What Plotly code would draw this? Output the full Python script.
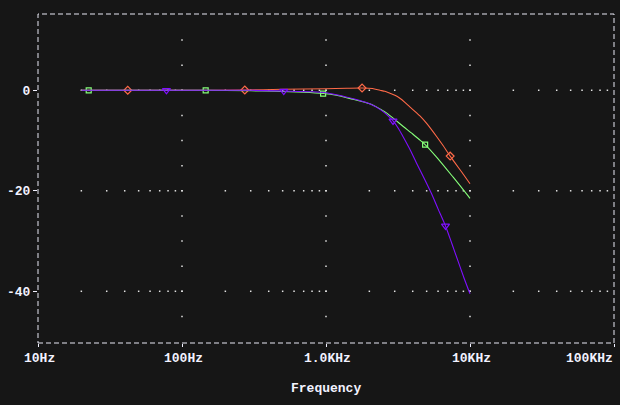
import math
import plotly.graph_objects as go

# ---------------- data ----------------
red_freq = [20, 42, 100, 273, 500, 1000, 1400, 1780, 2100, 2370, 2560, 2780, 3010,
            3260, 3530, 3820, 4260, 4490, 5000, 5860, 6500, 7280, 8980, 10000]
red_db = [0, 0, 0.0, 0.05, 0.2, 0.3, 0.4, 0.45, 0.35, 0.0, -0.2, -0.6, -1.0,
          -1.6, -2.4, -3.3, -4.5, -5.1, -6.6, -9.2, -11.0, -13.1, -16.7, -18.6]
red_mark_freq = [42, 273, 1780, 7280]

green_freq = [20, 22.5, 146, 300, 437, 700, 955, 1180, 1540, 2010, 2370, 2630,
              3000, 3440, 4000, 4400, 4880, 5860, 7640, 9460, 10000]
green_db = [0, 0, 0, -0.1, -0.2, -0.4, -0.65, -1.0, -1.8, -2.7, -3.7, -4.5,
            -5.8, -7.2, -8.7, -9.7, -10.8, -13.3, -17.3, -20.6, -21.5]
green_mark_freq = [22.5, 146, 955, 4880]

purple_freq = [20, 78, 300, 509, 800, 1000, 1180, 1550, 2010, 2370, 2630, 2920,
               3200, 3440, 3800, 4240, 4800, 5390, 6000, 6760, 7500, 8260, 9100, 10000]
purple_db = [0, 0, 0, -0.15, -0.3, -0.5, -0.9, -1.7, -2.7, -3.8, -4.8, -6.1,
             -7.7, -9.3, -11.6, -14.4, -17.5, -20.5, -23.6, -27.0, -30.6, -34.0, -37.4, -40.5]
purple_mark_freq = [78, 509, 2920, 6760]

x_tick_vals = [10, 100, 1000, 10000, 100000]
x_tick_text = ["10Hz", "100Hz", "1.0KHz", "10KHz", "100KHz"]
y_tick_vals = [0, -20, -40]
y_tick_text = ["0", "-20", "-40"]
x_title = "Frequency"

# grid structure (PSpice-style dotted grid)
grid_x_major = [100, 1000, 10000]
grid_x_decades = [10, 100, 1000, 10000]
grid_x_minor_mult = [2, 3, 4, 5, 6, 7, 8, 9, 10]
grid_y_major = [0, -20, -40]
grid_y_minor = [10, 5, 0, -5, -10, -15, -20, -25, -30, -35, -40, -45]

# ---------------- style ----------------
BG = "#161616"
FG = "#F2F2FF"
RED = "#FF6A48"
GREEN = "#86FF7A"
PURPLE = "#7F10FF"
DOT = "#E4E4E4"
FONT = dict(family="Liberation Mono, DejaVu Sans Mono, monospace", size=13, color=FG, weight="bold")

fig = go.Figure()

# dotted grid
gx, gy = [], []
for yv in grid_y_major:
    for d in grid_x_decades:
        for m in grid_x_minor_mult:
            f = d * m
            if f < 100000:
                gx.append(f)
                gy.append(yv)
for xv in grid_x_major:
    for yv in grid_y_minor:
        gx.append(xv)
        gy.append(yv)
fig.add_trace(go.Scatter(x=gx, y=gy, mode="markers",
                         marker=dict(symbol="square", size=1.5, color=DOT, line=dict(width=0)),
                         hoverinfo="skip", showlegend=False))


def add_series(freq, db, mark_freq, color, symbol, msize):
    fig.add_trace(go.Scatter(x=freq, y=db, mode="lines",
                             line=dict(color=color, width=1.1, shape="spline", smoothing=0.7),
                             hoverinfo="skip", showlegend=False))
    mx = [f for f in freq if f in mark_freq]
    my = [d for f, d in zip(freq, db) if f in mark_freq]
    fig.add_trace(go.Scatter(x=mx, y=my, mode="markers",
                             marker=dict(symbol=symbol, size=msize, color=color,
                                         line=dict(color=color, width=1.2)),
                             hoverinfo="skip", showlegend=False))


add_series(red_freq, red_db, red_mark_freq, RED, "diamond-open", 6)
add_series(green_freq, green_db, green_mark_freq, GREEN, "square-open", 5)
add_series(purple_freq, purple_db, purple_mark_freq, PURPLE, "triangle-down-open", 7)

# frame (dashed)
fig.add_shape(type="rect", xref="paper", yref="paper", x0=0, x1=1, y0=0, y1=1,
              line=dict(color="#E8E8F4", width=1, dash="5px,3px"), layer="above")

# x tick labels
for i, (v, t) in enumerate(zip(x_tick_vals, x_tick_text)):
    last = i == len(x_tick_vals) - 1
    fig.add_annotation(x=math.log10(v), y=0, xref="x", yref="paper", text=t,
                       showarrow=False, font=FONT, xanchor="right" if last else "center",
                       yanchor="middle", yshift=-15, xshift=1)
fig.add_annotation(x=0.5, y=0, xref="paper", yref="paper", text=x_title, showarrow=False,
                   font=FONT, xanchor="center", yanchor="middle", yshift=-45)

fig.update_layout(
    width=620, height=405,
    margin=dict(l=38, r=6, t=14, b=62, pad=0),
    paper_bgcolor=BG, plot_bgcolor=BG,
    font=FONT,
    showlegend=False,
    xaxis=dict(type="log", range=[1, 5], showgrid=False, zeroline=False, showline=False,
               ticks="outside", tickvals=x_tick_vals, ticklen=3, tickcolor=FG,
               showticklabels=False),
    yaxis=dict(range=[-50.29, 15.18], showgrid=False, zeroline=False, showline=False,
               ticks="outside", tickvals=y_tick_vals, ticktext=y_tick_text, ticklen=4,
               tickcolor=FG, tickfont=FONT),
)

fig.write_html("out.html",
               config={"displayModeBar": False},
               post_script="document.body.style.margin='0';document.body.style.overflow='hidden';"
                           "document.body.style.background='#161616';")
